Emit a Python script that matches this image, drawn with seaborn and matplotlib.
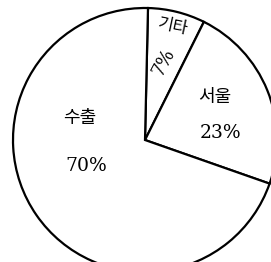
import matplotlib
matplotlib.use("Agg")
import matplotlib.pyplot as plt
import seaborn as sns

categories = ["기타", "서울", "수출"]
values = [7, 23, 70]
pct_labels = ["7%", "23%", "70%"]

sns.set_theme(style="white")
plt.rcParams['font.family'] = ['DejaVu Serif', 'Noto Sans CJK KR']

fig = plt.figure(figsize=(2.71, 2.62), dpi=100)
ax = fig.add_axes([0, 0, 1, 1])
ax.pie(values, startangle=88.7, counterclock=False, radius=1.0,
       colors=["white"] * 3,
       wedgeprops=dict(edgecolor="black", linewidth=1.6))

cx, cy, r = 145, 140, 132
ax.set_xlim((0 - cx) / r, (271 - cx) / r)
ax.set_ylim((cy - 262) / r, (cy - 0) / r)
ax.set_aspect('auto')
ax.axis('off')

def P(x, y):
    return ((x - cx) / r, (cy - y) / r)

kfont = ['Noto Sans CJK KR']
ax.text(*P(173, 27), categories[0], fontsize=12, family=kfont, rotation=-12,
        ha='center', va='center', color='black')
ax.text(*P(164, 62), pct_labels[0], fontsize=13, rotation=62,
        ha='center', va='center', color='black')
ax.text(*P(215, 97), categories[1], fontsize=13, family=kfont,
        ha='center', va='center', color='black')
ax.text(*P(220, 133), pct_labels[1], fontsize=13.5,
        ha='center', va='center', color='black')
ax.text(*P(80, 118), categories[2], fontsize=13, family=kfont,
        ha='center', va='center', color='black')
ax.text(*P(86, 166), pct_labels[2], fontsize=13.5,
        ha='center', va='center', color='black')

fig.savefig("out.png", dpi=100, facecolor="white")
